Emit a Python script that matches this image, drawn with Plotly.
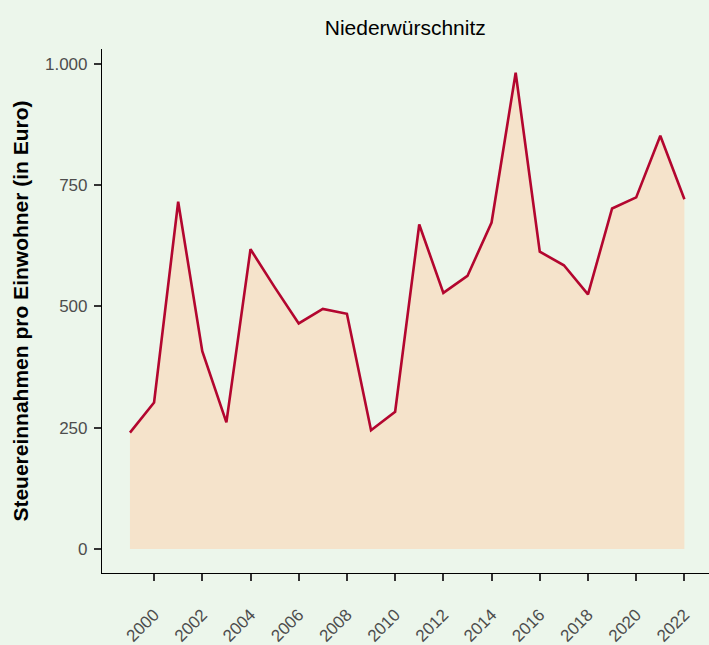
import plotly.graph_objects as go

years = list(range(1999, 2023))
values = [240, 302, 716, 408, 261, 618, 540, 465, 495, 485, 245, 283,
          669, 528, 563, 673, 982, 613, 585, 525, 702, 725, 852, 721]
x_ticks = list(range(2000, 2023, 2))
y_ticks = [0, 250, 500, 750, 1000]
y_tick_labels = ["0", "250", "500", "750", "1.000"]

BG = "#ECF6EB"
FILL = "#F5E3CB"
LINE = "#B3062F"

fig = go.Figure()
fig.add_trace(go.Scatter(
    x=years, y=values, mode="lines", fill="tozeroy",
    fillcolor=FILL, line=dict(color=LINE, width=2.6),
    hoverinfo="x+y", showlegend=False,
))

fig.update_layout(
    width=709, height=645,
    margin=dict(l=101.5, r=0, t=49, b=72, pad=0),
    paper_bgcolor=BG, plot_bgcolor=BG,
    font=dict(family="Liberation Sans, Arial, sans-serif", color="#000000"),
    title=dict(text="Niederwürschnitz", x=(101.5 + 709) / 2 / 709, xanchor="center",
               y=1 - 28 / 645, yanchor="middle", yref="container",
               font=dict(size=21, color="#000000")),
    showlegend=False,
)
fig.update_xaxes(
    range=[1997.84, 2023.02], tickvals=x_ticks, ticktext=[str(t) for t in x_ticks],
    tickangle=-45, showgrid=False, zeroline=False, automargin=False,
    showline=True, linecolor="#000000", linewidth=1.2,
    ticks="outside", ticklen=7, tickwidth=2, tickcolor="#333333",
    tickfont=dict(size=17, color="#4D4D4D"), ticklabelstandoff=17,
)
fig.update_yaxes(
    range=[-49.5, 1030.9], tickvals=y_ticks, ticktext=y_tick_labels,
    showgrid=False, zeroline=False, automargin=False,
    showline=True, linecolor="#000000", linewidth=1.2,
    ticks="outside", ticklen=7, tickwidth=2, tickcolor="#333333",
    tickfont=dict(size=17, color="#4D4D4D"), ticklabelstandoff=3,
    title=dict(text="<b>Steuereinnahmen pro Einwohner (in Euro)</b>",
               font=dict(size=21, color="#000000"), standoff=10),
)

fig.write_html(
    "out.html",
    config={"displayModeBar": False},
    post_script="document.body.style.margin='0';document.body.style.background='" + BG + "';",
)
